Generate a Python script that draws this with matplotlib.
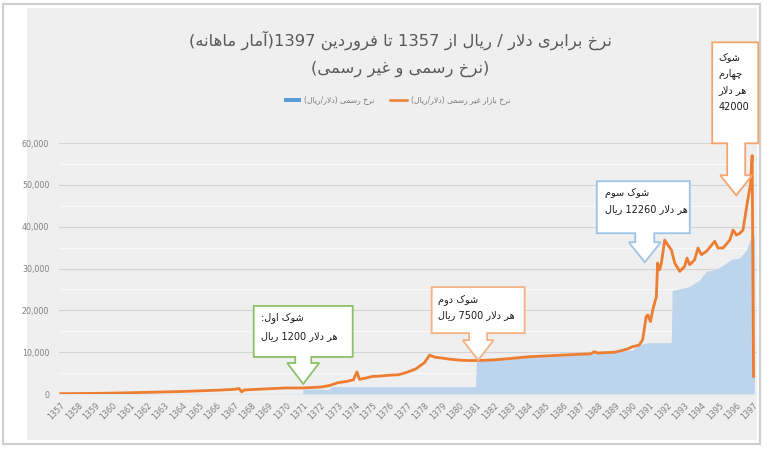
import re
import matplotlib
matplotlib.use("Agg")
import matplotlib.pyplot as plt
from matplotlib.patches import Rectangle, Polygon, Patch
from matplotlib.lines import Line2D
from matplotlib.transforms import IdentityTransform
from matplotlib.ticker import FuncFormatter, MultipleLocator

# ---------------- data ----------------
market_t = [1357.0, 1358.0, 1359.0, 1360.0, 1361.0, 1362.0, 1363.0, 1364.0, 1365.0, 1366.0,
            1367.0, 1367.3, 1367.45, 1367.6, 1368.0, 1368.5, 1369.0, 1369.5, 1370.0, 1370.5,
            1371.0, 1371.5, 1372.0, 1372.5, 1373.0, 1373.5, 1373.9, 1374.1, 1374.25, 1374.6,
            1375.0, 1375.5, 1376.0, 1376.5, 1377.0, 1377.5, 1378.0, 1378.3, 1378.6, 1379.0,
            1379.5, 1380.0, 1380.5, 1381.0, 1382.0, 1383.0, 1384.0, 1385.0, 1386.0, 1387.0,
            1387.6, 1387.8, 1388.0, 1389.0, 1389.5, 1389.75, 1390.0, 1390.4, 1390.6, 1390.8,
            1390.9, 1391.05, 1391.18, 1391.39, 1391.46, 1391.58, 1391.68, 1391.87, 1392.06, 1392.26,
            1392.45, 1392.74, 1393.02, 1393.16, 1393.31, 1393.6, 1393.79, 1393.99, 1394.28, 1394.76,
            1394.95, 1395.24, 1395.63, 1395.82, 1396.01, 1396.2, 1396.39, 1396.65, 1396.82, 1396.92,
            1397.0]
market_v = [75, 110, 150, 220, 300, 400, 500, 600, 750, 900,
            1100, 1300, 500, 950, 1050, 1150, 1250, 1350, 1450, 1450,
            1450, 1550, 1650, 2000, 2700, 3000, 3400, 5300, 3500, 3800,
            4200, 4300, 4500, 4600, 5200, 6000, 7500, 9300, 8800, 8600,
            8300, 8100, 8000, 8000, 8150, 8500, 8900, 9100, 9300, 9500,
            9600, 10100, 9800, 10000, 10500, 10800, 11300, 11700, 13000, 18500,
            18900, 17300, 20100, 23300, 31300, 29700, 31300, 36800, 35600, 34400,
            31300, 29300, 30500, 32500, 30900, 32100, 34900, 33300, 34100, 36500,
            34900, 34900, 36800, 39200, 38000, 38400, 39200, 46000, 50000, 57000,
            4200]

official_t = [1357.0, 1370.95, 1371.0, 1372.55, 1372.6, 1380.95, 1381.0, 1382.0, 1383.0, 1384.0,
              1385.0, 1386.0, 1387.0, 1388.0, 1389.0, 1390.0, 1390.3, 1390.9, 1392.25, 1392.3,
              1393.31, 1393.89, 1394.28, 1394.85, 1395.43, 1395.72, 1396.2, 1396.58, 1396.87, 1397.05]
official_v = [70, 70, 1150, 1150, 1750, 1750, 7900, 8100, 8400, 8700,
              9000, 9200, 9400, 9700, 10000, 10500, 11700, 12260, 12260, 24700,
              25700, 27300, 29300, 29800, 31300, 32200, 32500, 34400, 37600, 38000]

years = list(range(1357, 1398))
yticks = [0, 10000, 20000, 30000, 40000, 50000, 60000]

title_lines = ["نرخ برابری دلار / ریال از 1357 تا فروردین 1397(آمار ماهانه)",
               "(نرخ رسمی و غیر رسمی)"]
legend_official = "نرخ رسمی (دلار/ریال)"
legend_market = "نرخ بازار غیر رسمی (دلار/ریال)"

shock_t = [1371.0, 1381.1, 1390.72, 1396.0]
shock_tip = [2400, 8100, 31500, 47500]
shock_text = [["شوک اول:", "هر دلار 1200 ریال"],
              ["شوک دوم", "هر دلار 7500 ریال"],
              ["شوک سوم", "هر دلار 12260 ریال"],
              ["شوک", "چهارم", "هر دلار", "42000"]]
shock_color = ["#8cc168", "#f4b183", "#9dc3e6", "#f4a46c"]

# ---------------- simple Persian shaping ----------------
FORMS = {
    '\u0627': ('\uFE8D', '\uFE8E', None, None),
    '\u0622': ('\uFE81', '\uFE82', None, None),
    '\u0628': ('\uFE8F', '\uFE90', '\uFE91', '\uFE92'),
    '\u062A': ('\uFE95', '\uFE96', '\uFE97', '\uFE98'),
    '\u062E': ('\uFEA5', '\uFEA6', '\uFEA7', '\uFEA8'),
    '\u062F': ('\uFEA9', '\uFEAA', None, None),
    '\u0631': ('\uFEAD', '\uFEAE', None, None),
    '\u0632': ('\uFEAF', '\uFEB0', None, None),
    '\u0633': ('\uFEB1', '\uFEB2', '\uFEB3', '\uFEB4'),
    '\u0634': ('\uFEB5', '\uFEB6', '\uFEB7', '\uFEB8'),
    '\u063A': ('\uFECD', '\uFECE', '\uFECF', '\uFED0'),
    '\u0641': ('\uFED1', '\uFED2', '\uFED3', '\uFED4'),
    '\u0644': ('\uFEDD', '\uFEDE', '\uFEDF', '\uFEE0'),
    '\u0645': ('\uFEE1', '\uFEE2', '\uFEE3', '\uFEE4'),
    '\u0646': ('\uFEE5', '\uFEE6', '\uFEE7', '\uFEE8'),
    '\u0647': ('\uFEE9', '\uFEEA', '\uFEEB', '\uFEEC'),
    '\u0648': ('\uFEED', '\uFEEE', None, None),
    '\u06CC': ('\uFBFC', '\uFBFD', '\uFBFE', '\uFBFF'),
    '\u06A9': ('\uFB8E', '\uFB8F', '\uFB90', '\uFB91'),
    '\u0686': ('\uFB7A', '\uFB7B', '\uFB7C', '\uFB7D'),
}


def _dual(c):
    return c in FORMS and FORMS[c][2] is not None


def shape(s):
    res = []
    i, n = 0, len(s)
    while i < n:
        c = s[i]
        if c not in FORMS:
            res.append(c)
            i += 1
            continue
        jp = i > 0 and _dual(s[i - 1])
        if c == '\u0644' and i + 1 < n and s[i + 1] == '\u0627':
            res.append('\uFEFC' if jp else '\uFEFB')
            i += 2
            continue
        jn = _dual(c) and i + 1 < n and s[i + 1] in FORMS
        iso, fin, ini, med = FORMS[c]
        res.append(med if (jp and jn) else fin if jp else ini if jn else iso)
        i += 1
    return ''.join(res)


def fa(s):
    t = shape(s)[::-1].translate(str.maketrans('()', ')('))
    return re.sub(r'[0-9][0-9,.]*', lambda m: m.group(0)[::-1], t)


# ---------------- figure ----------------
W, H = 769, 449
fig = plt.figure(figsize=(W / 100, H / 100), dpi=100, facecolor="white")
plt.rcParams['font.family'] = ['DejaVu Sans']


def fx(x):
    return x / W


def fy(y):
    return 1 - y / H


# panel background
fig.patches.append(Rectangle((fx(3), fy(444)), fx(757), 440 / H, transform=fig.transFigure,
                             facecolor="white", edgecolor="#cfcfcf", lw=1.6, zorder=-3))
fig.patches.append(Rectangle((fx(27), fy(440)), fx(730), 432 / H, transform=fig.transFigure,
                             facecolor="#efefef", edgecolor="none", zorder=-2))

ax = fig.add_axes([fx(59), fy(394), fx(698), (394 - 143) / H])
ax.set_facecolor("none")
ax.set_xlim(1356.9, 1397.2)
ax.set_ylim(0, 60000)

ax.set_yticks(yticks)
ax.yaxis.set_minor_locator(MultipleLocator(5000))
ax.grid(axis='y', which='major', color='#d4d4d4', lw=0.8, zorder=0)
ax.grid(axis='y', which='minor', color='#fafafa', lw=0.7, zorder=0)
ax.set_axisbelow(True)
ax.yaxis.set_major_formatter(FuncFormatter(lambda v, p: f"{int(v):,}"))
ax.tick_params(axis='y', which='both', length=0, labelsize=5.7, labelcolor='#7f7f7f', pad=7)
ax.set_xticks(years)
ax.set_xticklabels([str(y) for y in years], rotation=45, ha='right', va='top',
                   rotation_mode='anchor', fontsize=5.7, color='#7f7f7f')
ax.tick_params(axis='x', length=0, pad=5)
for sp in ax.spines.values():
    sp.set_visible(False)

ax.fill_between(official_t, official_v, 0, color='#bdd5ec', lw=0, zorder=1)
ax.plot(market_t, market_v, color='#ed7d31', lw=2.0, zorder=3, solid_joinstyle='round')

# legend
handles = [Patch(facecolor='#5b9bd5', edgecolor='none'),
           Line2D([], [], color='#ed7d31', lw=1.8)]
fig.legend(handles, [fa(legend_official), fa(legend_market)], loc='center',
           bbox_to_anchor=(fx(397), fy(100)), ncol=2, frameon=False, fontsize=5.5,
           handlelength=2.2, handleheight=0.5, columnspacing=2.0, handletextpad=0.5,
           labelcolor='#7f7f7f')

# title
fig.text(fx(400), fy(40), fa(title_lines[0]), ha='center', va='center', fontsize=11.8, color='#595959')
fig.text(fx(400), fy(69), fa(title_lines[1]), ha='center', va='center', fontsize=11.8, color='#595959')

# callouts (geometry in pixels, tip anchored at data point)
geo = [
    # box_w, box_h, stem_len, stem_half, head_half, head_h, text_dx, line_gap
    (99, 51, 6, 8, 16, 21, 7, 18),
    (93, 46, 7, 9, 15.5, 20, 6, 16),
    (93, 52, 9, 9.5, 16, 20, 8, 16),
    (46, 101, 32, 9, 16, 20, 6, 16.5),
]
box_dx = [0, 0, -1.5, -1]
fig.canvas.draw()
I = IdentityTransform()
for k in range(len(shock_t)):
    tx, ty = ax.transData.transform((shock_t[k], shock_tip[k]))
    bw, bh, sl, sh, hh, hl, tdx, lg = geo[k]
    cx = tx + box_dx[k]
    base = ty + hl
    pts = [(tx, ty), (tx - hh, base), (tx - sh, base), (tx - sh, base + sl),
           (cx - bw / 2, base + sl), (cx - bw / 2, base + sl + bh),
           (cx + bw / 2, base + sl + bh), (cx + bw / 2, base + sl),
           (tx + sh, base + sl), (tx + sh, base), (tx + hh, base)]
    fig.patches.append(Polygon(pts, closed=True, transform=I, facecolor='white',
                               edgecolor=shock_color[k], lw=1.3, zorder=5))
    top = base + sl + bh
    first = 12 if k < 3 else 15
    for j, line in enumerate(shock_text[k]):
        fig.text(cx - bw / 2 + tdx, top - first - j * lg, fa(line), transform=I,
                 ha='left', va='center', fontsize=7, color='#1a1a1a', zorder=6)

fig.savefig("out.png", dpi=100, facecolor="white")
